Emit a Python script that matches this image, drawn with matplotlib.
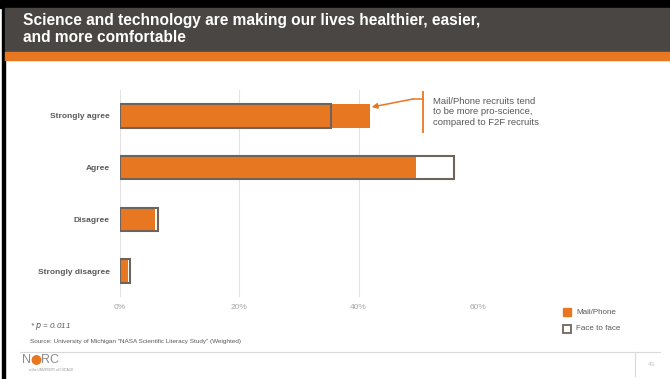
import matplotlib
matplotlib.use('Agg')
import matplotlib.pyplot as plt
from matplotlib.lines import Line2D
from matplotlib.patches import Rectangle, Ellipse

categories = ['Strongly agree', 'Agree', 'Disagree', 'Strongly disagree']
mail_phone = [41.9, 49.6, 6.0, 1.4]
face_to_face = [35.4, 56.0, 6.4, 1.7]
xticks = [0, 20, 40, 60]
xtick_labels = ['0%', '20%', '40%', '60%']

ORANGE = '#E87722'
EDGE = '#6f645b'
TEXT = '#595959'
W, H = 670, 379

plt.rcParams['font.family'] = ['Liberation Sans', 'DejaVu Sans']


def fx(px):
    return px / W


def fy(py):
    return 1 - py / H


def plot():
    fig = plt.figure(figsize=(W / 100, H / 100), dpi=100)
    fig.patch.set_facecolor('white')

    # slide frame / title bar
    fig.add_artist(Rectangle((0, fy(8)), 1, fy(0) - fy(8), transform=fig.transFigure,
                             color='black', zorder=0))
    fig.add_artist(Rectangle((fx(2), 0), fx(3), 1, transform=fig.transFigure,
                             color='black', zorder=0))
    fig.add_artist(Rectangle((fx(5), fy(52)), 1, fy(8) - fy(52), transform=fig.transFigure,
                             color='#4a4643', zorder=1))
    fig.add_artist(Rectangle((fx(5), fy(60)), 1, fy(52) - fy(60), transform=fig.transFigure,
                             color=ORANGE, zorder=1))
    fig.text(fx(23), fy(29), 'Science and technology are making our lives healthier, easier,\n'
             'and more comfortable', color='white', fontsize=11.2, fontweight='bold',
             va='center', ha='left', linespacing=1.12)

    ax = fig.add_axes([fx(119.5), fy(297), fx(478) - fx(119.5), fy(90) - fy(297)])
    y = range(len(categories))
    ax.barh(y, mail_phone, height=0.45, color=ORANGE, edgecolor='none', zorder=3)
    ax.barh(y, face_to_face, height=0.45, facecolor='none', edgecolor=EDGE,
            linewidth=1.5, zorder=4)
    ax.set_xlim(0, 60)
    ax.set_ylim(3.5, -0.5)
    ax.set_yticks(list(y))
    ax.set_yticklabels(categories, fontsize=6, fontweight='bold', color=TEXT)
    ax.set_xticks(xticks)
    ax.set_xticklabels(xtick_labels, fontsize=6, color='#a6a6a6')
    ax.tick_params(length=0, axis='y', pad=7)
    ax.tick_params(length=0, axis='x', pad=5)
    ax.grid(axis='x', color='#e3e3e3', linewidth=0.8, zorder=0)
    for s in ax.spines.values():
        s.set_visible(False)

    # callout
    fig.add_artist(Line2D([fx(422.5), fx(422.5)], [fy(92), fy(132)], color=ORANGE,
                          linewidth=1.3))
    fig.add_artist(Line2D([fx(422.5), fx(413)], [fy(99), fy(99)], color=ORANGE,
                          linewidth=1.1))
    ax.annotate('', xy=(mail_phone[0] + 0.3, -0.17), xycoords='data',
                xytext=(fx(413), fy(99)), textcoords='figure fraction',
                arrowprops=dict(arrowstyle='-|>', color=ORANGE, lw=1.1,
                                mutation_scale=8, shrinkA=0, shrinkB=0))
    fig.text(fx(433), fy(112), 'Mail/Phone recruits tend\nto be more pro-science,\n'
             'compared to F2F recruits', fontsize=6.8, color=TEXT, va='center',
             ha='left', linespacing=1.15)

    # legend
    fig.add_artist(Rectangle((fx(563), fy(316)), fx(8), fy(308) - fy(316),
                             transform=fig.transFigure, color=ORANGE))
    fig.add_artist(Rectangle((fx(563), fy(333)), fx(8), fy(325) - fy(333),
                             transform=fig.transFigure, facecolor='white',
                             edgecolor=EDGE, linewidth=1.3))
    fig.text(fx(576), fy(312), 'Mail/Phone', fontsize=5.8, color=TEXT, va='center')
    fig.text(fx(576), fy(329), 'Face to face', fontsize=5.8, color=TEXT, va='center')

    # notes
    fig.text(fx(30), fy(326), '* $p$ = 0.011', fontsize=5.8, color=TEXT, va='center',
             style='italic')
    fig.text(fx(30), fy(342), 'Source: University of Michigan "NASA Scientific Literacy Study" (Weighted)',
             fontsize=4.6, color=TEXT, va='center')

    # footer
    fig.add_artist(Line2D([fx(20), fx(660)], [fy(352), fy(352)], color='#d9d9d9',
                          linewidth=0.8))
    fig.add_artist(Line2D([fx(635), fx(635)], [fy(352), fy(376)], color='#d9d9d9',
                          linewidth=0.8))
    fig.text(fx(648), fy(364), '43', fontsize=4.5, color='#bfbfbf', va='center')
    fig.text(fx(22), fy(360), 'N', fontsize=9, color='#8c8c8c', va='center')
    fig.add_artist(Ellipse((fx(36.5), fy(360)), fx(8.5), 8.5 / H,
                           transform=fig.transFigure, color=ORANGE))
    fig.text(fx(41.5), fy(360), 'RC', fontsize=9, color='#8c8c8c', va='center')
    fig.text(fx(29), fy(370), 'at the UNIVERSITY of CHICAGO', fontsize=2.2,
             color='#8c8c8c', va='center')

    fig.savefig('out.png', dpi=100)


if __name__ == '__main__':
    plot()
